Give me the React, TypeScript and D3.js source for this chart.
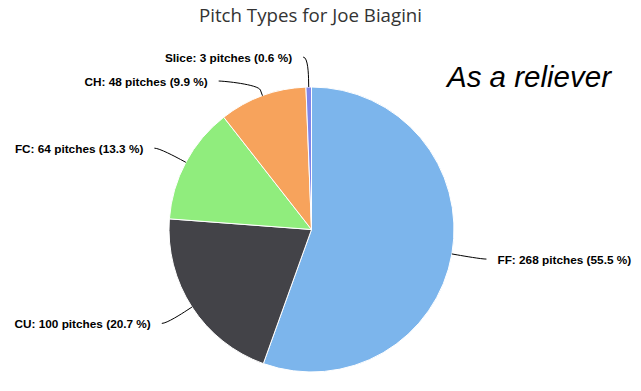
import React, { useEffect, useRef } from 'react';
import * as d3 from 'd3';

const categories = ['FF', 'CU', 'FC', 'CH', 'Slice'];
const pitches = [268, 100, 64, 48, 3];
const colors = ['#7cb5ec', '#434348', '#90ed7d', '#f7a35c', '#8085e9'];
const chartTitle = 'Pitch Types for Joe Biagini';
const noteText = 'As a reliever';

const App = () => {
  const svgRef = useRef(null);

  useEffect(() => {
    const width = 641;
    const height = 391;
    const cx = 311.5;
    const cy = 229.5;
    const radius = 142.5;
    const labelDistance = 30;
    const R = radius + labelDistance;

    const svg = d3.select(svgRef.current)
      .attr('width', width)
      .attr('height', height);
    svg.selectAll('*').remove();

    svg.append('rect')
      .attr('width', width)
      .attr('height', height)
      .attr('fill', '#fff');

    // title
    svg.append('text')
      .attr('x', 310.5)
      .attr('y', 22)
      .attr('text-anchor', 'middle')
      .style('font-family', '"Open Sans", sans-serif')
      .style('font-size', '18.7px')
      .style('fill', '#333')
      .text(chartTitle);

    const data = categories.map((c, i) => ({ name: c, value: pitches[i], color: colors[i] }));
    const total = d3.sum(pitches);

    const pie = d3.pie().sort(null).value(d => d.value);
    const arcs = pie(data);
    const arc = d3.arc().innerRadius(0).outerRadius(radius);

    const g = svg.append('g').attr('transform', `translate(${cx},${cy})`);

    g.selectAll('path.slice')
      .data(arcs)
      .enter().append('path')
      .attr('class', 'slice')
      .attr('d', arc)
      .attr('fill', d => d.data.color)
      .attr('stroke', '#fff')
      .attr('stroke-width', 1)
      .attr('stroke-linejoin', 'round');

    // label layout, roughly how Highcharts spreads pie labels
    const labels = arcs.map(a => {
      const mid = (a.startAngle + a.endAngle) / 2;
      return {
        a,
        mid,
        left: Math.sin(mid) < 0,
        natY: cy - Math.cos(mid) * R,
        y: 0,
        x: 0
      };
    });
    const spacing = 24;
    const top = cy - R;
    [true, false].forEach(side => {
      const group = labels.filter(l => l.left === side).sort((p, q) => p.natY - q.natY);
      let prev = -Infinity;
      group.forEach(l => {
        l.y = Math.max(l.natY, prev + spacing, top);
        prev = l.y;
        const refY = l.y === top ? l.natY : l.y;
        const dx = Math.sqrt(Math.max(0, R * R - (refY - cy) * (refY - cy)));
        l.x = cx + (side ? -dx : dx);
      });
    });

    const pt = (ang, rr) => [cx + Math.sin(ang) * rr, cy - Math.cos(ang) * rr];

    labels.forEach(l => {
      const p2 = pt(l.mid, radius + labelDistance / 5);
      const p4 = pt(l.mid, radius);
      const path = `M${l.x + (l.left ? -5 : 5)},${l.y}C${l.x},${l.y},${2 * p2[0] - p4[0]},${2 * p2[1] - p4[1]},${p2[0]},${p2[1]}L${p4[0]},${p4[1]}`;
      svg.append('path')
        .attr('d', path)
        .attr('fill', 'none')
        .attr('stroke', '#000')
        .attr('stroke-width', 1);

      const pct = (l.a.data.value / total * 100).toFixed(1);
      svg.append('text')
        .attr('x', l.left ? l.x - 16 : l.x + 16)
        .attr('y', l.y + 5)
        .attr('text-anchor', l.left ? 'end' : 'start')
        .style('font-family', '"Liberation Sans", Arial, sans-serif')
        .style('font-size', '11.8px')
        .style('font-weight', 'bold')
        .style('fill', '#000')
        .text(`${l.a.data.name}: ${l.a.data.value} pitches (${pct} %)`);
    });

    // annotation
    svg.append('text')
      .attr('x', 447)
      .attr('y', 87)
      .style('font-family', '"Liberation Sans", Arial, sans-serif')
      .style('font-size', '29.5px')
      .style('font-style', 'italic')
      .style('fill', '#000')
      .text(noteText);
  }, []);

  return <svg ref={svgRef} style={{ position: 'absolute', left: 0, top: 0 }}></svg>;
};

export default App;
